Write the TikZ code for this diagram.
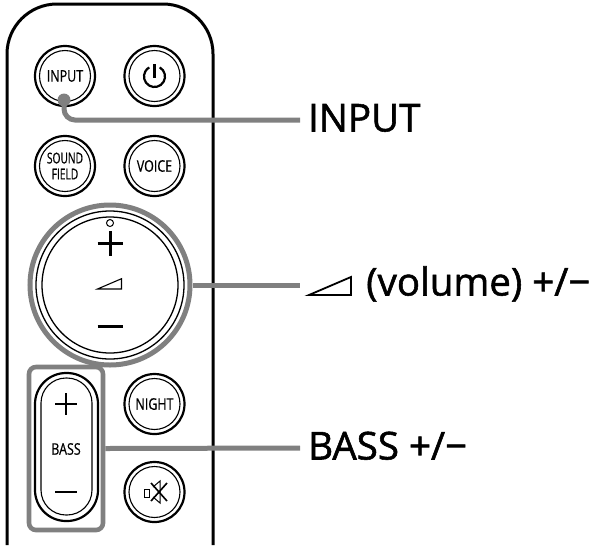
\documentclass[tikz,border=0pt]{standalone}
\usepackage{fontspec}
\setmainfont{Open Sans}
\newfontfamily\narrowfont[FakeStretch=0.78,FakeBold=0.5]{Open Sans}
\newfontfamily\tightfont[FakeStretch=0.68,FakeBold=0.5]{Open Sans}
\newfontfamily\labelfont[FakeBold=1.4]{Open Sans}
\definecolor{leadgray}{RGB}{128,128,128}
\tikzset{
  btn/.style={circle, draw, line width=2.2pt, minimum size=60pt, inner sep=0pt, align=center, font=\narrowfont\fontsize{16}{18}\selectfont},
  btnring/.style={circle, draw, line width=1.1pt, minimum size=51pt, inner sep=0pt},
  volring/.style={circle, draw, line width=1.3pt, inner sep=0pt},
  leader/.style={line width=5pt, draw=leadgray},
  biglabel/.style={anchor=west, inner xsep=8pt, inner ysep=0pt, text height=27pt, text depth=4pt, font=\labelfont\fontsize{38.5}{40}\selectfont},
  pmark/.style={line width=2.4pt}
}
\begin{document}
\begin{tikzpicture}[x=1pt,y=-1pt]
\useasboundingbox (0,0) rectangle (596,547);
%boitier
\coordinate (caseleft) at (7,545);
\coordinate (caseright) at (213,545);
\draw[line width=3pt, rounded corners=50pt] (caseleft) -- (7,4) -- (213,4) -- (caseright);

%boutons ronds
\node[btn] (input) at (65,76) {INPUT};
\node[btnring] (inputring) at (input) {};
\node[btn] (power) at (154.5,76) {};
\node[btnring] (powerring) at (power) {};
\node[btn, font=\tightfont\fontsize{15}{16}\selectfont] (sound) at (65,166) {SOUND\\FIELD};
\node[btnring] (soundring) at (sound) {};
\node[btn] (voice) at (154.5,166) {VOICE};
\node[btnring] (voicering) at (voice) {};
\node[btn] (night) at (154.5,404) {NIGHT};
\node[btnring] (nightring) at (night) {};
\node[btn] (mute) at (154.5,492) {};
\node[btnring] (mutering) at (mute) {};

%symbole marche
\draw[line width=2.2pt] (159.75,67.4) arc[start angle=-60, end angle=240, radius=10.5];
\draw[line width=2.2pt] (154.5,64) -- (154.5,78);

%symbole muet
\draw[line width=1pt] (144,489) rectangle (149,497);
\draw[line width=1pt] (153,487) -- (160,481) -- (160,503) -- (153,497);
\draw[line width=1.6pt] (151,483) -- (167,501);
\draw[line width=1.6pt] (167,483) -- (151,501);

%molette volume
\node[circle, draw=leadgray, line width=5pt, minimum size=160pt, inner sep=0pt] (vol) at (110,285) {};
\node[volring, minimum size=148pt] (volring1) at (vol) {};
\node[volring, minimum size=136pt] (volring2) at (vol) {};
\node[circle, draw, line width=1pt, minimum size=7pt, inner sep=0pt] (voldot) at (110,223) {};
\draw[pmark, line width=3pt] (97.5,243) -- (123,243);
\draw[pmark, line width=3pt] (110,231) -- (110,256);
\draw[line width=1.1pt, line join=miter] (97.5,289) -- (121.5,289) -- (121.5,278.7) -- cycle;
\draw[pmark, line width=3pt] (97.5,326) -- (123,326);

%bouton basses
\node[draw=leadgray, line width=4.6pt, rounded corners=7pt, minimum width=74pt, minimum height=163pt, inner sep=0pt] (bassbox) at (66,448.5) {};
\node[draw, line width=2.2pt, rounded corners=31pt, minimum width=63pt, minimum height=148pt, inner sep=0pt] (basspill) at (66.5,447) {};
\node[draw, line width=1.1pt, rounded corners=25pt, minimum width=51pt, minimum height=137pt, inner sep=0pt] (bassinner) at (66.5,446.5) {};
\node[inner sep=0pt, font=\narrowfont\fontsize{16}{18}\selectfont] (basstext) at (66,449) {BASS};
\draw[pmark] (55,404) -- (77,404);
\draw[pmark] (66,393) -- (66,415);
\draw[pmark] (55,492) -- (77,492);

%legendes
\node[biglabel] (inputlabel) at (300,120) {INPUT};
\node[biglabel, inner xsep=0pt] (vollabel) at (366,284) {(volume) +/−};
\node[biglabel] (basslabel) at (300,448) {BASS +/−};
\coordinate (volend) at (300,285);
\draw[line width=1.8pt, line join=miter] (309,295) -- (351,295) -- (351,277) -- cycle;

%traits de rappel
\node[circle, fill=leadgray, minimum size=13pt, inner sep=0pt] (inputdot) at (64,100) {};
\draw[leader, rounded corners=11pt] (inputdot.center) |- (inputlabel.west);
\draw[leader] (vol.east) -- (volend);
\draw[leader] (bassbox.east) -- (basslabel.west);
\end{tikzpicture}
\end{document}
